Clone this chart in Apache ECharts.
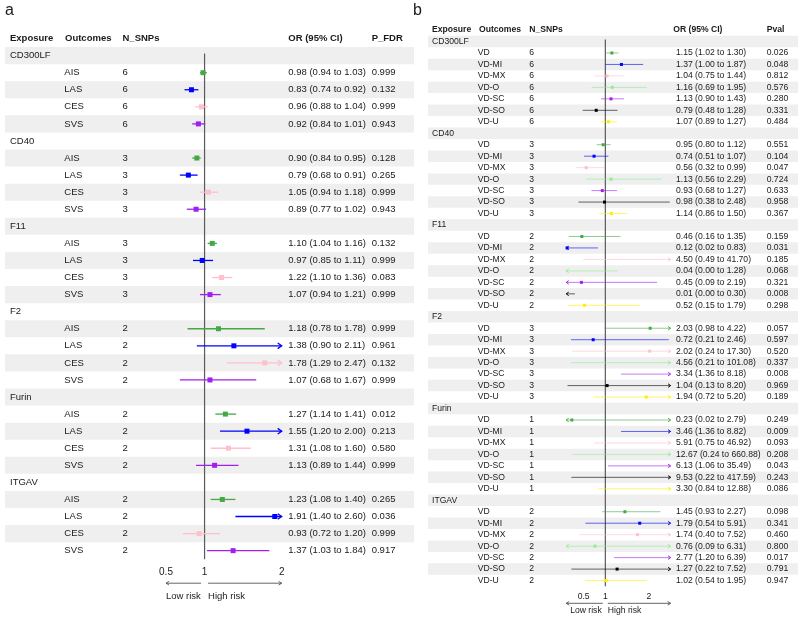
<!DOCTYPE html>
<html>
<head>
<meta charset="utf-8">
<script src="https://cdn.jsdelivr.net/npm/echarts@6/dist/echarts.min.js"></script>
<style>
  html, body { margin: 0; padding: 0; background: #fff; }
  #main { width: 800px; height: 620px; }
</style>
</head>
<body>
<div id="main"></div>
<script>
var exposures = ['CD300LF', 'CD40', 'F11', 'F2', 'Furin', 'ITGAV'];

// panel a
var outcomesA = ['AIS', 'LAS', 'CES', 'SVS'];
var snpsA = [6, 3, 3, 2, 2, 2];
var orA = [0.98, 0.83, 0.96, 0.92, 0.90, 0.79, 1.05, 0.89, 1.10, 0.97, 1.22, 1.07,
           1.18, 1.38, 1.78, 1.07, 1.27, 1.55, 1.31, 1.13, 1.23, 1.91, 0.93, 1.37];
var lowA = [0.94, 0.74, 0.88, 0.84, 0.84, 0.68, 0.94, 0.77, 1.04, 0.85, 1.10, 0.94,
            0.78, 0.90, 1.29, 0.68, 1.14, 1.20, 1.08, 0.89, 1.08, 1.40, 0.72, 1.03];
var highA = [1.03, 0.92, 1.04, 1.01, 0.95, 0.91, 1.18, 1.02, 1.16, 1.11, 1.36, 1.21,
             1.78, 2.11, 2.47, 1.67, 1.41, 2.00, 1.60, 1.44, 1.40, 2.60, 1.20, 1.84];
var pfdrA = ['0.999', '0.132', '0.999', '0.943', '0.128', '0.265', '0.999', '0.943',
             '0.132', '0.999', '0.083', '0.999', '0.999', '0.961', '0.132', '0.999',
             '0.012', '0.213', '0.580', '0.999', '0.265', '0.036', '0.999', '0.917'];
var ticksA = [0.5, 1, 2];

// panel b
var outcomesB = ['VD', 'VD-MI', 'VD-MX', 'VD-O', 'VD-SC', 'VD-SO', 'VD-U'];
var snpsB = [6, 3, 2, 3, 1, 2];
var orB = [1.15, 1.37, 1.04, 1.16, 1.13, 0.79, 1.07,
           0.95, 0.74, 0.56, 1.13, 0.93, 0.98, 1.14,
           0.46, 0.12, 4.50, 0.04, 0.45, 0.01, 0.52,
           2.03, 0.72, 2.02, 4.56, 3.34, 1.04, 1.94,
           0.23, 3.46, 5.91, 12.67, 6.13, 9.53, 3.30,
           1.45, 1.79, 1.74, 0.76, 2.77, 1.27, 1.02];
var lowB = [1.02, 1.00, 0.75, 0.69, 0.90, 0.48, 0.89,
            0.80, 0.51, 0.32, 0.56, 0.68, 0.38, 0.86,
            0.16, 0.02, 0.49, 0.00, 0.09, 0.00, 0.15,
            0.98, 0.21, 0.24, 0.21, 1.36, 0.13, 0.72,
            0.02, 1.36, 0.75, 0.24, 1.06, 0.22, 0.84,
            0.93, 0.54, 0.40, 0.09, 1.20, 0.22, 0.54];
var highB = [1.30, 1.87, 1.44, 1.95, 1.43, 1.28, 1.27,
             1.12, 1.07, 0.99, 2.29, 1.27, 2.48, 1.50,
             1.35, 0.83, 41.70, 1.28, 2.19, 0.30, 1.79,
             4.22, 2.46, 17.30, 101.08, 8.18, 8.20, 5.20,
             2.79, 8.82, 46.92, 660.88, 35.49, 417.59, 12.88,
             2.27, 5.91, 7.52, 6.31, 6.39, 7.52, 1.95];
var pvalB = ['0.026', '0.048', '0.812', '0.576', '0.280', '0.331', '0.484',
             '0.551', '0.104', '0.047', '0.724', '0.633', '0.958', '0.367',
             '0.159', '0.031', '0.185', '0.068', '0.321', '0.008', '0.298',
             '0.057', '0.597', '0.520', '0.337', '0.008', '0.969', '0.189',
             '0.249', '0.009', '0.093', '0.208', '0.043', '0.243', '0.086',
             '0.098', '0.341', '0.460', '0.800', '0.017', '0.791', '0.947'];
var ticksB = [0.5, 1, 2];

var FONT = '"Liberation Sans", Arial, sans-serif';
var INK = '#1a1a1a';

function buildRows(outcomes, snps, or, lo, hi, p) {
  var rows = [{ kind: 'head' }];
  exposures.forEach(function (e, g) {
    rows.push({ kind: 'group', name: e });
    outcomes.forEach(function (o, k) {
      var i = g * outcomes.length + k;
      rows.push({ kind: 'item', outcome: o, n: snps[g], or: or[i], lo: lo[i], hi: hi[i], p: p[i], color: k });
    });
  });
  return rows;
}

function ciText(r) {
  return r.or.toFixed(2) + ' (' + r.lo.toFixed(2) + ' to ' + r.hi.toFixed(2) + ')';
}

var rowsA = buildRows(outcomesA, snpsA, orA, lowA, highA, pfdrA);
var rowsB = buildRows(outcomesB, snpsB, orB, lowB, highB, pvalB);

var specA = {
  heads: ['Exposure', 'Outcomes', 'N_SNPs', 'OR (95% CI)', 'P_FDR'],
  headX: [5, 60, 117.5, 283.3, 366.7],
  cellX: [5, 59.3, 117.5, 283.3, 366.7],
  fontSize: 9.5,
  min: 0.5, max: 2,
  colors: ['#45a845', '#0000ff', '#ffc0cb', '#a020f0'],
  lw: 1.3, box: 5, arrow: 4, lineOpacity: 1
};
var specB = {
  heads: ['Exposure', 'Outcomes', 'N_SNPs', 'OR (95% CI)', 'Pval'],
  headX: [4, 51, 101.3, 245.3, 338.7],
  cellX: [4, 49.7, 101.3, 248, 338.7],
  fontSize: 8.6,
  min: 0.1, max: 2.5,
  colors: ['#45a845', '#0000ff', '#ffc0cb', '#90ee90', '#a020f0', '#000000', '#ffee00'],
  lw: 1, box: 3, arrow: 2.5, lineOpacity: 0.6
};

// 表格：底色 + 文字
function tableItem(rows, spec) {
  return function (params, api) {
    var r = rows[params.dataIndex];
    var cs = params.coordSys;
    var h = cs.height / rows.length;
    var y = api.coord([0, params.dataIndex])[1];
    var kids = [];
    if (params.dataIndex % 2 === 1) {
      kids.push({ type: 'rect', shape: { x: cs.x, y: y - h / 2, width: cs.width, height: h }, style: { fill: '#efefef' } });
    }
    function txt(s, dx, bold) {
      kids.push({
        type: 'text',
        style: {
          text: String(s), x: cs.x + dx, y: y, fill: INK,
          fontSize: spec.fontSize, fontFamily: FONT, fontWeight: bold ? 'bold' : 'normal',
          align: 'left', verticalAlign: 'middle'
        }
      });
    }
    if (r.kind === 'head') {
      for (var i = 0; i < spec.heads.length; i++) txt(spec.heads[i], spec.headX[i], true);
    } else if (r.kind === 'group') {
      txt(r.name, spec.cellX[0]);
    } else {
      txt(r.outcome, spec.cellX[1]);
      txt(r.n, spec.cellX[2]);
      txt(ciText(r), spec.cellX[3]);
      txt(r.p, spec.cellX[4]);
    }
    return { type: 'group', children: kids };
  };
}

// 森林图：置信区间 + 点 + 箭头
function forestItem(spec) {
  return function (params, api) {
    var or = api.value(0), row = api.value(1), lo = api.value(2), hi = api.value(3);
    var c = spec.colors[api.value(4)];
    var a = api.coord([Math.max(lo, spec.min), row]);
    var b = api.coord([Math.min(hi, spec.max), row]);
    var y = a[1], ah = spec.arrow;
    var kids = [{
      type: 'line', shape: { x1: a[0], y1: y, x2: b[0], y2: y },
      style: { stroke: c, lineWidth: spec.lw, opacity: spec.lineOpacity }
    }];
    if (hi >= spec.max) {
      kids.push({ type: 'polyline', shape: { points: [[b[0] - ah, y - ah * 0.7], [b[0], y], [b[0] - ah, y + ah * 0.7]] },
        style: { stroke: c, fill: null, lineWidth: spec.lw } });
    }
    if (lo < spec.min) {
      kids.push({ type: 'polyline', shape: { points: [[a[0] + ah, y - ah * 0.7], [a[0], y], [a[0] + ah, y + ah * 0.7]] },
        style: { stroke: c, fill: null, lineWidth: spec.lw } });
    }
    if (or >= spec.min && or <= spec.max) {
      var p = api.coord([or, row]);
      kids.push({ type: 'rect', shape: { x: p[0] - spec.box / 2, y: y - spec.box / 2, width: spec.box, height: spec.box }, style: { fill: c } });
    }
    return { type: 'group', children: kids };
  };
}

function refLine(params, api) {
  var cs = params.coordSys;
  var p = api.coord([1, 1]);
  return { type: 'line', shape: { x1: p[0], y1: p[1] - 2, x2: p[0], y2: cs.y + cs.height },
    style: { stroke: '#5a5a5a', lineWidth: 1.2 } };
}

function forestData(rows) {
  var out = [];
  rows.forEach(function (r, i) {
    if (r.kind === 'item') out.push([r.or, i, r.lo, r.hi, r.color]);
  });
  return out;
}

function idx(rows) { return rows.map(function (r, i) { return String(i); }); }

var chart = echarts.init(document.getElementById('main'));

function plotAxis(grid, spec, ticks, fs, margin, tickLen) {
  return {
    gridIndex: grid, type: 'value', min: spec.min, max: spec.max,
    splitLine: { show: false },
    axisLine: { lineStyle: { color: '#444', width: 1 } },
    axisTick: { length: tickLen, customValues: ticks, lineStyle: { color: '#444' } },
    axisLabel: { customValues: ticks, color: INK, fontSize: fs, fontFamily: FONT, margin: margin }
  };
}

var option = {
  animation: false,
  textStyle: { fontFamily: FONT },
  grid: [
    { left: 5, top: 30, width: 409, height: 529.2 },
    { left: 166, top: 30, width: 115.7, height: 529.2 },
    { left: 428, top: 24.3, width: 370, height: 562 },
    { left: 566.2, top: 24.3, width: 104.4, height: 562 }
  ],
  xAxis: [
    { gridIndex: 0, type: 'value', min: 0, max: 1, show: false },
    plotAxis(1, specA, ticksA, 10, 8, 5),
    { gridIndex: 2, type: 'value', min: 0, max: 1, show: false },
    plotAxis(3, specB, ticksB, 8.6, 6, 4)
  ],
  yAxis: [
    { gridIndex: 0, type: 'category', inverse: true, data: idx(rowsA), show: false },
    { gridIndex: 1, type: 'category', inverse: true, data: idx(rowsA), show: false },
    { gridIndex: 2, type: 'category', inverse: true, data: idx(rowsB), show: false },
    { gridIndex: 3, type: 'category', inverse: true, data: idx(rowsB), show: false }
  ],
  series: [
    { type: 'custom', xAxisIndex: 0, yAxisIndex: 0, z: 1, clip: false, silent: true,
      renderItem: tableItem(rowsA, specA), data: rowsA.map(function (r, i) { return [0, i]; }) },
    { type: 'custom', xAxisIndex: 2, yAxisIndex: 2, z: 1, clip: false, silent: true,
      renderItem: tableItem(rowsB, specB), data: rowsB.map(function (r, i) { return [0, i]; }) },
    { type: 'custom', xAxisIndex: 1, yAxisIndex: 1, z: 2, clip: false, silent: true,
      renderItem: refLine, data: [[1, 1]] },
    { type: 'custom', xAxisIndex: 3, yAxisIndex: 3, z: 2, clip: false, silent: true,
      renderItem: refLine, data: [[1, 1]] },
    { type: 'custom', xAxisIndex: 1, yAxisIndex: 1, z: 3, clip: false, silent: true,
      renderItem: forestItem(specA), data: forestData(rowsA) },
    { type: 'custom', xAxisIndex: 3, yAxisIndex: 3, z: 3, clip: false, silent: true,
      renderItem: forestItem(specB), data: forestData(rowsB) }
  ]
};
chart.setOption(option);

// 坐标轴下方的 Low risk / High risk 箭头
function riskGraphics(axisIdx, spec, gridBottom, arrowDy, textDy, fs, lowPad, gap) {
  var xMin = chart.convertToPixel({ xAxisIndex: axisIdx }, spec.min);
  var xMax = chart.convertToPixel({ xAxisIndex: axisIdx }, spec.max);
  var x1 = chart.convertToPixel({ xAxisIndex: axisIdx }, 1);
  var y = gridBottom + arrowDy, ah = 3;
  var st = { stroke: '#555', lineWidth: 0.9, fill: null };
  return [
    { type: 'line', shape: { x1: xMin, y1: y, x2: x1 - gap, y2: y }, style: st },
    { type: 'polyline', shape: { points: [[xMin + ah, y - ah * 0.6], [xMin, y], [xMin + ah, y + ah * 0.6]] }, style: st },
    { type: 'line', shape: { x1: x1 + gap, y1: y, x2: xMax, y2: y }, style: st },
    { type: 'polyline', shape: { points: [[xMax - ah, y - ah * 0.6], [xMax, y], [xMax - ah, y + ah * 0.6]] }, style: st },
    { type: 'text', style: { text: 'Low risk', x: xMin + lowPad, y: gridBottom + textDy, fill: INK, fontSize: fs, fontFamily: FONT, verticalAlign: 'middle' } },
    { type: 'text', style: { text: 'High risk', x: x1 + gap, y: gridBottom + textDy, fill: INK, fontSize: fs, fontFamily: FONT, verticalAlign: 'middle' } }
  ];
}

var graphics = [
  { type: 'text', style: { text: 'a', x: 5, y: 11, fill: INK, fontSize: 16, fontFamily: FONT, verticalAlign: 'middle' } },
  { type: 'text', style: { text: 'b', x: 413, y: 11, fill: INK, fontSize: 16, fontFamily: FONT, verticalAlign: 'middle' } }
]
  .concat(riskGraphics(1, specA, 30 + 529.2, 24, 37, 9.5, 0, 3.5))
  .concat(riskGraphics(3, specB, 24.3 + 562, 17, 24, 8.6, 4, 2.5));

chart.setOption({ graphic: graphics });
</script>
</body>
</html>
